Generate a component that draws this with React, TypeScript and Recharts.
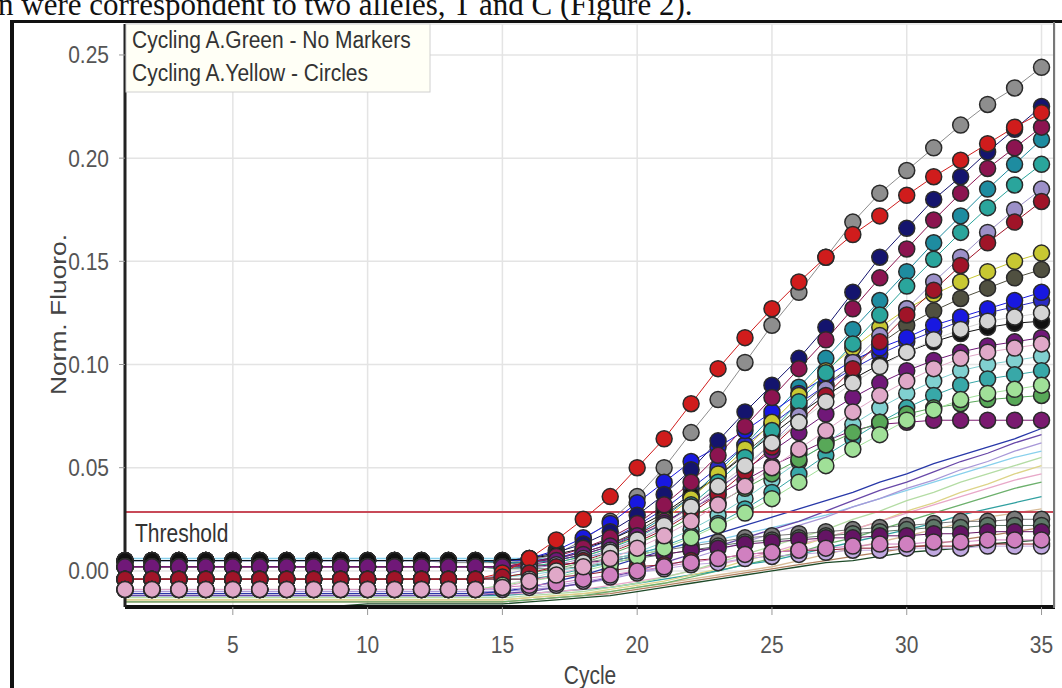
import React from "react";
import { LineChart, Line, XAxis, YAxis, CartesianGrid, ReferenceLine } from "recharts";

const cycles = [1,2,3,4,5,6,7,8,9,10,11,12,13,14,15,16,17,18,19,20,21,22,23,24,25,26,27,28,29,30,31,32,33,34,35];
const xTicks = [5,10,15,20,25,30,35];
const yTicks = [0,0.05,0.1,0.15,0.2,0.25];
const thresholdValue = 0.0285;

// Cycling A.Yellow (circles)
const m01 = [0.005,0.005,0.005,0.005,0.005,0.005,0.005,0.005,0.005,0.005,0.005,0.005,0.004,0.004,0.004,0.005,0.008,0.015,0.024,0.036,0.050,0.067,0.083,0.101,0.119,0.135,0.152,0.169,0.183,0.194,0.205,0.216,0.226,0.234,0.244];
const m02 = [-0.004,-0.004,-0.004,-0.004,-0.004,-0.004,-0.004,-0.004,-0.004,-0.004,-0.004,-0.004,-0.004,-0.004,-0.001,0.006,0.015,0.025,0.036,0.050,0.064,0.081,0.098,0.113,0.127,0.140,0.152,0.163,0.172,0.182,0.191,0.199,0.207,0.215,0.222];
const m03 = [0.005,0.005,0.005,0.005,0.005,0.005,0.005,0.005,0.005,0.005,0.005,0.005,0.005,0.005,0.005,0.006,0.009,0.013,0.019,0.027,0.037,0.049,0.063,0.077,0.090,0.103,0.118,0.135,0.152,0.166,0.180,0.191,0.203,0.214,0.225];
const m04 = [0.002,0.002,0.002,0.002,0.002,0.002,0.002,0.002,0.002,0.002,0.002,0.002,0.002,0.002,0.002,0.004,0.007,0.011,0.016,0.023,0.032,0.043,0.056,0.070,0.084,0.098,0.112,0.127,0.142,0.156,0.170,0.183,0.195,0.205,0.215];
const m05 = [0.005,0.005,0.005,0.005,0.005,0.005,0.005,0.005,0.005,0.005,0.005,0.005,0.005,0.005,0.004,0.004,0.005,0.008,0.012,0.018,0.026,0.036,0.048,0.061,0.075,0.089,0.103,0.117,0.131,0.145,0.159,0.172,0.185,0.197,0.209];
const m06 = [0.002,0.002,0.002,0.002,0.002,0.002,0.002,0.002,0.002,0.002,0.002,0.002,0.002,0.002,0.001,0.002,0.004,0.007,0.011,0.016,0.023,0.032,0.043,0.055,0.068,0.082,0.096,0.110,0.124,0.138,0.151,0.164,0.176,0.187,0.197];
const m07 = [-0.004,-0.004,-0.004,-0.004,-0.004,-0.004,-0.004,-0.004,-0.004,-0.004,-0.004,-0.004,-0.004,-0.004,-0.002,0.001,0.003,0.006,0.010,0.015,0.021,0.029,0.039,0.050,0.062,0.075,0.088,0.101,0.114,0.127,0.140,0.152,0.164,0.175,0.185];
const m08 = [-0.004,-0.004,-0.004,-0.004,-0.004,-0.004,-0.004,-0.004,-0.004,-0.004,-0.004,-0.004,-0.004,-0.004,-0.003,-0.001,0.002,0.005,0.009,0.014,0.020,0.028,0.037,0.048,0.060,0.072,0.085,0.098,0.111,0.124,0.136,0.148,0.159,0.169,0.179];
const m09 = [0.002,0.002,0.002,0.002,0.002,0.002,0.002,0.002,0.002,0.002,0.002,0.002,0.002,0.002,0.002,0.002,0.004,0.007,0.011,0.017,0.025,0.035,0.047,0.059,0.072,0.085,0.097,0.108,0.118,0.127,0.134,0.140,0.145,0.150,0.154];
const m10 = [0.005,0.005,0.005,0.005,0.005,0.005,0.005,0.005,0.005,0.005,0.005,0.005,0.005,0.005,0.004,0.004,0.006,0.009,0.013,0.019,0.027,0.036,0.046,0.057,0.068,0.079,0.090,0.100,0.110,0.119,0.126,0.132,0.137,0.142,0.146];
const m11 = [0.005,0.005,0.005,0.005,0.005,0.005,0.005,0.005,0.005,0.005,0.005,0.005,0.005,0.005,0.005,0.006,0.010,0.016,0.023,0.033,0.043,0.053,0.060,0.068,0.077,0.086,0.094,0.102,0.108,0.113,0.119,0.123,0.127,0.131,0.135];
const m12 = [0.005,0.005,0.005,0.005,0.005,0.005,0.005,0.005,0.005,0.005,0.005,0.005,0.005,0.005,0.005,0.005,0.006,0.010,0.015,0.022,0.030,0.040,0.050,0.061,0.071,0.081,0.090,0.098,0.105,0.111,0.116,0.121,0.125,0.128,0.131];
const m13 = [-0.009,-0.009,-0.009,-0.009,-0.009,-0.009,-0.009,-0.009,-0.009,-0.009,-0.009,-0.009,-0.009,-0.009,-0.007,-0.004,0.000,0.004,0.009,0.015,0.022,0.031,0.041,0.051,0.062,0.072,0.082,0.091,0.099,0.106,0.112,0.117,0.121,0.123,0.125];
const m14 = [0.005,0.005,0.005,0.005,0.005,0.005,0.005,0.005,0.005,0.005,0.005,0.005,0.005,0.005,0.005,0.006,0.008,0.011,0.015,0.021,0.028,0.037,0.046,0.056,0.066,0.076,0.085,0.093,0.100,0.106,0.111,0.115,0.118,0.120,0.121];
const m15 = [0.002,0.002,0.002,0.002,0.002,0.002,0.002,0.002,0.002,0.002,0.002,0.002,0.002,0.002,0.002,0.003,0.005,0.008,0.012,0.017,0.023,0.031,0.040,0.049,0.058,0.067,0.076,0.084,0.091,0.097,0.102,0.106,0.109,0.111,0.113];
const m16 = [-0.009,-0.009,-0.009,-0.009,-0.009,-0.009,-0.009,-0.009,-0.009,-0.009,-0.009,-0.009,-0.009,-0.009,-0.008,-0.005,-0.002,0.002,0.006,0.011,0.017,0.024,0.032,0.041,0.050,0.059,0.068,0.077,0.085,0.092,0.098,0.103,0.106,0.108,0.110];
const m17 = [-0.004,-0.004,-0.004,-0.004,-0.004,-0.004,-0.004,-0.004,-0.004,-0.004,-0.004,-0.004,-0.004,-0.004,-0.003,-0.002,0.000,0.002,0.005,0.009,0.014,0.020,0.027,0.035,0.044,0.053,0.062,0.071,0.079,0.086,0.092,0.097,0.100,0.102,0.104];
const m18 = [-0.004,-0.004,-0.004,-0.004,-0.004,-0.004,-0.004,-0.004,-0.004,-0.004,-0.004,-0.004,-0.004,-0.004,-0.004,-0.004,-0.002,0.001,0.004,0.008,0.012,0.017,0.023,0.030,0.038,0.047,0.056,0.064,0.072,0.079,0.085,0.090,0.093,0.095,0.097];
const m19 = [-0.009,-0.009,-0.009,-0.009,-0.009,-0.009,-0.009,-0.009,-0.009,-0.009,-0.009,-0.009,-0.009,-0.009,-0.007,-0.005,-0.003,0.000,0.003,0.007,0.011,0.016,0.022,0.028,0.035,0.043,0.051,0.059,0.066,0.073,0.078,0.083,0.086,0.088,0.090];
const m20 = [-0.004,-0.004,-0.004,-0.004,-0.004,-0.004,-0.004,-0.004,-0.004,-0.004,-0.004,-0.004,-0.004,-0.004,-0.003,-0.001,0.001,0.004,0.008,0.013,0.019,0.026,0.033,0.040,0.047,0.054,0.061,0.067,0.072,0.076,0.079,0.081,0.083,0.084,0.085];
const m21 = [0.002,0.002,0.002,0.002,0.002,0.002,0.002,0.002,0.002,0.002,0.002,0.002,0.002,0.002,0.002,0.004,0.006,0.009,0.013,0.018,0.024,0.030,0.037,0.044,0.051,0.057,0.063,0.068,0.071,0.072,0.073,0.073,0.073,0.073,0.073];
const m22 = [0.005,0.005,0.005,0.005,0.005,0.005,0.005,0.005,0.005,0.005,0.005,0.005,0.005,0.005,0.004,0.003,0.003,0.004,0.006,0.008,0.010,0.012,0.014,0.016,0.017,0.018,0.019,0.020,0.021,0.022,0.023,0.024,0.024,0.025,0.025];
const m23 = [0.002,0.002,0.002,0.002,0.002,0.002,0.002,0.002,0.002,0.002,0.002,0.002,0.002,0.002,0.001,0.001,0.001,0.002,0.004,0.006,0.008,0.010,0.012,0.014,0.015,0.016,0.017,0.018,0.019,0.020,0.021,0.021,0.022,0.022,0.022];
const m24 = [0.002,0.002,0.002,0.002,0.002,0.002,0.002,0.002,0.002,0.002,0.002,0.002,0.002,0.002,0.002,0.002,0.003,0.004,0.005,0.007,0.008,0.010,0.011,0.013,0.014,0.015,0.016,0.016,0.017,0.017,0.018,0.018,0.019,0.019,0.019];
const m25 = [-0.009,-0.009,-0.009,-0.009,-0.009,-0.009,-0.009,-0.009,-0.009,-0.009,-0.009,-0.009,-0.009,-0.009,-0.008,-0.007,-0.006,-0.004,-0.002,0.000,0.002,0.004,0.006,0.008,0.009,0.010,0.011,0.012,0.013,0.013,0.014,0.014,0.015,0.015,0.015];
const m26 = [-0.004,-0.004,-0.004,-0.004,-0.004,-0.004,-0.004,-0.004,-0.004,-0.004,-0.004,-0.004,-0.004,-0.004,-0.004,-0.004,-0.003,-0.002,0.000,0.002,0.003,0.005,0.006,0.008,0.009,0.010,0.010,0.011,0.011,0.012,0.012,0.012,0.013,0.013,0.013];
const m27 = [-0.009,-0.009,-0.009,-0.009,-0.009,-0.009,-0.009,-0.009,-0.009,-0.009,-0.009,-0.009,-0.009,-0.009,-0.009,-0.008,-0.007,-0.005,-0.003,-0.001,0.001,0.003,0.004,0.006,0.007,0.008,0.009,0.010,0.010,0.011,0.011,0.011,0.012,0.012,0.012];

// Cycling A.Green (no markers)
const g01 = [-0.011,-0.011,-0.011,-0.011,-0.011,-0.011,-0.011,-0.011,-0.011,-0.011,-0.011,-0.011,-0.011,-0.011,-0.010,-0.008,-0.005,-0.002,0.002,0.006,0.010,0.014,0.018,0.022,0.026,0.030,0.034,0.038,0.043,0.047,0.052,0.056,0.060,0.064,0.069];
const g02 = [-0.012,-0.012,-0.012,-0.012,-0.012,-0.012,-0.012,-0.012,-0.012,-0.012,-0.012,-0.012,-0.012,-0.012,-0.011,-0.010,-0.008,-0.006,-0.003,0.000,0.004,0.008,0.012,0.016,0.020,0.024,0.029,0.034,0.039,0.043,0.048,0.053,0.057,0.062,0.066];
const g03 = [-0.010,-0.010,-0.010,-0.010,-0.010,-0.010,-0.010,-0.010,-0.010,-0.010,-0.010,-0.010,-0.010,-0.010,-0.010,-0.009,-0.008,-0.006,-0.004,-0.001,0.002,0.006,0.010,0.014,0.018,0.022,0.026,0.031,0.035,0.040,0.044,0.049,0.053,0.058,0.062];
const g04 = [0.006,0.006,0.006,0.006,0.006,0.006,0.006,0.006,0.006,0.006,0.006,0.006,0.006,0.006,0.006,0.006,0.006,0.007,0.008,0.009,0.011,0.013,0.015,0.018,0.021,0.024,0.027,0.031,0.035,0.039,0.043,0.047,0.051,0.055,0.058];
const g05 = [-0.013,-0.013,-0.013,-0.013,-0.013,-0.013,-0.013,-0.013,-0.013,-0.013,-0.013,-0.013,-0.013,-0.013,-0.013,-0.012,-0.011,-0.010,-0.008,-0.006,-0.003,0.000,0.004,0.008,0.012,0.016,0.020,0.025,0.029,0.034,0.038,0.043,0.047,0.051,0.055];
const g06 = [-0.014,-0.014,-0.014,-0.014,-0.014,-0.014,-0.014,-0.014,-0.014,-0.014,-0.014,-0.014,-0.014,-0.014,-0.014,-0.013,-0.012,-0.011,-0.009,-0.007,-0.005,-0.002,0.001,0.005,0.008,0.012,0.016,0.020,0.024,0.029,0.033,0.038,0.042,0.047,0.051];
const g07 = [-0.011,-0.011,-0.011,-0.011,-0.011,-0.011,-0.011,-0.011,-0.011,-0.011,-0.011,-0.011,-0.011,-0.011,-0.011,-0.011,-0.010,-0.009,-0.007,-0.005,-0.003,0.000,0.003,0.006,0.009,0.013,0.016,0.020,0.024,0.028,0.032,0.036,0.040,0.044,0.047];
const g08 = [-0.015,-0.015,-0.015,-0.015,-0.015,-0.015,-0.015,-0.015,-0.015,-0.015,-0.015,-0.015,-0.015,-0.015,-0.015,-0.014,-0.013,-0.012,-0.010,-0.008,-0.006,-0.003,0.000,0.003,0.006,0.009,0.013,0.016,0.020,0.024,0.028,0.032,0.036,0.040,0.043];
const g09 = [-0.012,-0.012,-0.012,-0.012,-0.012,-0.012,-0.012,-0.012,-0.012,-0.012,-0.012,-0.012,-0.012,-0.012,-0.012,-0.011,-0.010,-0.009,-0.008,-0.006,-0.004,-0.002,0.000,0.003,0.005,0.008,0.011,0.014,0.017,0.020,0.023,0.027,0.030,0.033,0.036];
const g10 = [-0.014,-0.014,-0.014,-0.014,-0.014,-0.014,-0.014,-0.014,-0.014,-0.014,-0.014,-0.014,-0.014,-0.014,-0.014,-0.013,-0.012,-0.011,-0.010,-0.008,-0.006,-0.004,-0.002,0.000,0.002,0.005,0.008,0.011,0.014,0.017,0.020,0.023,0.026,0.028,0.030];
const g11 = [-0.017,-0.017,-0.017,-0.017,-0.017,-0.017,-0.017,-0.017,-0.017,-0.016,-0.016,-0.016,-0.016,-0.016,-0.016,-0.015,-0.014,-0.013,-0.012,-0.010,-0.008,-0.006,-0.004,-0.002,0.000,0.002,0.004,0.005,0.007,0.009,0.010,0.011,0.013,0.014,0.015];
const g12 = [-0.015,-0.015,-0.015,-0.015,-0.015,-0.015,-0.015,-0.015,-0.015,-0.015,-0.015,-0.015,-0.015,-0.015,-0.015,-0.014,-0.013,-0.012,-0.011,-0.009,-0.007,-0.005,-0.003,-0.001,0.001,0.003,0.005,0.007,0.009,0.011,0.013,0.015,0.017,0.019,0.021];

const greenSeries = [
  { key: "g11", color: "#1e4a28", values: g11 },
  { key: "g12", color: "#b08060", values: g12 },
  { key: "g10", color: "#d8bc98", values: g10 },
  { key: "g08", color: "#6cb06c", values: g08 },
  { key: "g09", color: "#30a0a0", values: g09 },
  { key: "g06", color: "#ddd488", values: g06 },
  { key: "g07", color: "#e8a8c8", values: g07 },
  { key: "g05", color: "#b4dca4", values: g05 },
  { key: "g04", color: "#88d0ec", values: g04 },
  { key: "g03", color: "#a898d8", values: g03 },
  { key: "g02", color: "#6848a8", values: g02 },
  { key: "g01", color: "#2838a8", values: g01 },
];

// drawn from the highest baseline row to the lowest, so each row keeps its top cap visible
const yellowSeries = [
  { key: "m22", color: "#7a7a7a", values: m22 },
  { key: "m01", color: "#8e8e8e", values: m01 },
  { key: "m10", color: "#505040", values: m10 },
  { key: "m05", color: "#1e8ca0", values: m05 },
  { key: "m12", color: "#2a2ac4", values: m12 },
  { key: "m11", color: "#1818e0", values: m11 },
  { key: "m03", color: "#14146e", values: m03 },
  { key: "m14", color: "#111111", values: m14 },
  { key: "m09", color: "#c8c832", values: m09 },
  { key: "m06", color: "#2aa59c", values: m06 },
  { key: "m23", color: "#5e7868", values: m23 },
  { key: "m21", color: "#7a1a70", values: m21 },
  { key: "m04", color: "#8c1450", values: m04 },
  { key: "m24", color: "#641464", values: m24 },
  { key: "m15", color: "#701878", values: m15 },
  { key: "m07", color: "#9c90c8", values: m07 },
  { key: "m17", color: "#80d0d0", values: m17 },
  { key: "m18", color: "#38a8a8", values: m18 },
  { key: "m20", color: "#58a858", values: m20 },
  { key: "m02", color: "#d01c1c", values: m02 },
  { key: "m26", color: "#901830", values: m26 },
  { key: "m08", color: "#a01428", values: m08 },
  { key: "m13", color: "#d4d4d4", values: m13 },
  { key: "m19", color: "#a0e098", values: m19 },
  { key: "m27", color: "#c0a8e0", values: m27 },
  { key: "m25", color: "#d080c0", values: m25 },
  { key: "m16", color: "#e0a8c8", values: m16 },
];

const data = cycles.map((c, i) => {
  const row: Record<string, number> = { cycle: c };
  for (const s of greenSeries) row[s.key] = s.values[i];
  for (const s of yellowSeries) row[s.key] = s.values[i];
  return row;
});

const FONT = "'Liberation Sans', Arial, Helvetica, sans-serif";

const XTick = (props: any) => {
  const { x, y, payload } = props;
  return (
    <text transform={`translate(${x},${y + 32}) scale(1,1.15)`} textAnchor="middle" fontSize={21} fill="#555" fontFamily={FONT}>
      {payload.value}
    </text>
  );
};

const YTick = (props: any) => {
  const { x, y, payload } = props;
  return (
    <text transform={`translate(${x},${y + 8.5}) scale(1,1.15)`} textAnchor="end" fontSize={21} fill="#555" fontFamily={FONT}>
      {Number(payload.value).toFixed(2)}
    </text>
  );
};

export default function App() {
  return (
    <div style={{ position: "absolute", left: 0, top: 0, width: 1062, height: 688, background: "#fff", overflow: "hidden" }}>
      <LineChart width={1062} height={688} data={data} margin={{ top: 24, right: 7, bottom: 51, left: 55 }}>
        <CartesianGrid stroke="#e4e4e4" strokeWidth={1.5} />
        <XAxis
          dataKey="cycle"
          type="number"
          domain={[1, 35.5]}
          ticks={xTicks}
          height={30}
          tickSize={8}
          tickMargin={6}
          tick={<XTick />}
          axisLine={{ stroke: "#111", strokeWidth: 4 }}
          tickLine={{ stroke: "#999" }}
        />
        <YAxis
          type="number"
          domain={[-0.0175, 0.265]}
          ticks={yTicks}
          width={70}
          tickSize={6}
          tickMargin={10}
          tick={<YTick />}
          axisLine={{ stroke: "#222", strokeWidth: 3 }}
          tickLine={{ stroke: "#999" }}
        />
        {greenSeries.map((s) => (
          <Line key={s.key} dataKey={s.key} stroke={s.color} strokeWidth={1.3} dot={false} isAnimationActive={false} type="linear" />
        ))}
        <ReferenceLine y={thresholdValue} stroke="#c84a58" strokeWidth={2} />
        {yellowSeries.map((s) => (
          <Line
            key={s.key}
            dataKey={s.key}
            stroke={s.color}
            strokeWidth={1}
            type="linear"
            isAnimationActive={false}
            dot={{ r: 8, fill: s.color, stroke: "#2a2a2a", strokeWidth: 1.5 }}
          />
        ))}
      </LineChart>
      <svg width={1062} height={688} style={{ position: "absolute", left: 0, top: 0, pointerEvents: "none" }}>
        <text x={-2} y={15} fontFamily="'Liberation Serif', 'Times New Roman', serif" fontSize={31} fill="#111">
          n were correspondent to two alleles, T and C (Figure 2).
        </text>
        <rect x={10} y={20} width={1052} height={3} fill="#111" />
        <rect x={10} y={20} width={4} height={668} fill="#111" />
        <rect x={1053} y={22} width={2} height={586} fill="#777" />
        <rect x={126} y={24} width={304} height={68} fill="#fffff6" stroke="#d0d0d0" />
        <text transform="translate(132,48) scale(1,1.1)" fontSize={21} fill="#333" fontFamily={FONT}>Cycling A.Green - No Markers</text>
        <text transform="translate(132,81) scale(1,1.1)" fontSize={21} fill="#333" fontFamily={FONT}>Cycling A.Yellow - Circles</text>
        <text transform="translate(135,542) scale(1,1.2)" fontSize={21} fill="#333" fontFamily={FONT}>Threshold</text>
        <text transform="translate(66,314.5) rotate(-90) scale(1.2,1)" textAnchor="middle" fontSize={22} fill="#444" fontFamily={FONT}>Norm. Fluoro.</text>
        <text transform="translate(590,684) scale(1,1.2)" textAnchor="middle" fontSize={21} fill="#444" fontFamily={FONT}>Cycle</text>
      </svg>
    </div>
  );
}
